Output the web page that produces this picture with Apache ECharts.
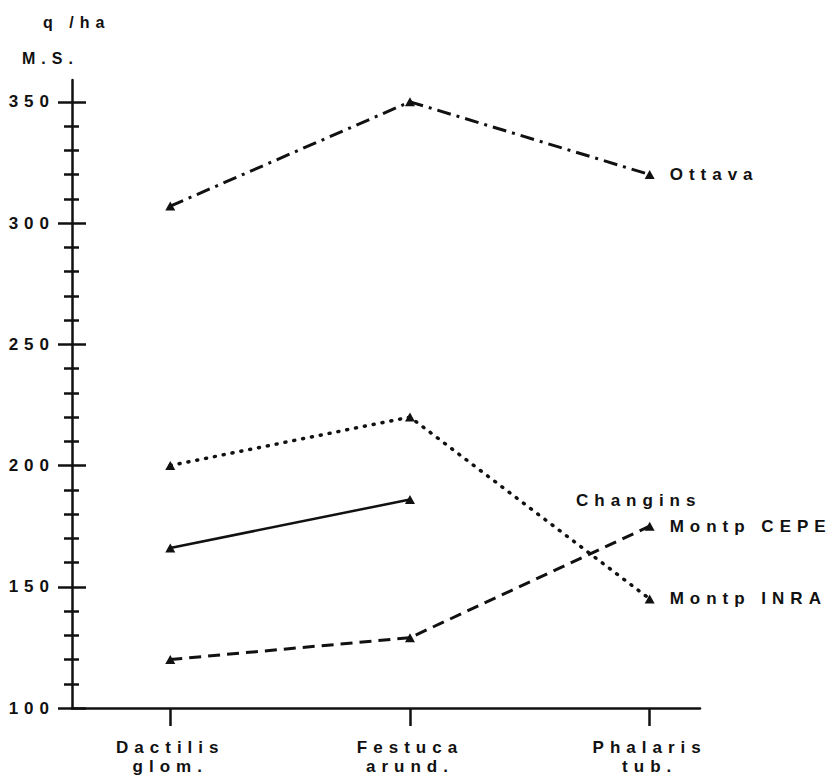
<!DOCTYPE html>
<html>
<head>
<meta charset="utf-8">
<script src="https://cdn.jsdelivr.net/npm/echarts@6.0.0/dist/echarts.min.js"></script>
<style>
  html, body { margin: 0; padding: 0; background: #fff; }
  #chart { width: 840px; height: 782px; }
  /* the scanned figure uses widely spaced lettering */
  #chart text { letter-spacing: 6px; }
</style>
</head>
<body>
<div id="chart"></div>
<script>
const categories = ['Dactilis\nglom.', 'Festuca\narund.', 'Phalaris\ntub.']
const ottava = [307, 350, 320]
const changins = [166, 186, null]
const montpCepe = [120, 129, 175]
const montpInra = [200, 220, 145]
const majorTicks = [100, 150, 200, 250, 300, 350]
const minorTicks = [110, 120, 130, 140, 160, 170, 180, 190, 210, 220, 230, 240,
  260, 270, 280, 290, 310, 320, 330, 340]
const categoryTicks = [0, 1, 2]

const ink = '#111'
const font = '"Liberation Sans", Arial, sans-serif'

function toPoints(values) {
  return values
    .map((v, i) => (v == null ? null : [i, v]))
    .filter((p) => p !== null)
}

function yAxisBase(extra) {
  return Object.assign(
    {
      type: 'value',
      position: 'left',
      min: 100,
      max: 359,
      splitLine: { show: false },
      axisLine: { show: false, onZero: false },
      axisLabel: { show: false },
    },
    extra
  )
}

function lineSeries(name, values, lineStyle, label) {
  return {
    name: name,
    type: 'line',
    data: toPoints(values),
    symbol: 'triangle',
    symbolSize: [10, 9],
    itemStyle: { color: ink },
    lineStyle: Object.assign({ color: ink, width: 3 }, lineStyle),
    endLabel: label
      ? {
          show: true,
          formatter: label,
          distance: 20,
          color: ink,
          fontSize: 17,
          fontWeight: 'bold',
          fontFamily: font,
        }
      : { show: false },
    silent: true,
    animation: false,
  }
}

const chart = echarts.init(document.getElementById('chart'), null, { renderer: 'svg' })

const option = {
  backgroundColor: '#fff',
  animation: false,
  grid: {
    left: 72,
    right: 140,
    top: 80,
    bottom: 74,
    containLabel: false,
    outerBoundsMode: 'none',
  },
  xAxis: {
    type: 'value',
    min: -0.41,
    max: 2.21,
    splitLine: { show: false },
    axisLine: { show: true, onZero: false, lineStyle: { color: ink, width: 2.5 } },
    axisTick: {
      show: true,
      customValues: categoryTicks,
      length: 18,
      lineStyle: { color: ink, width: 2.5 },
    },
    axisLabel: {
      customValues: categoryTicks,
      formatter: (v) => categories[Math.round(v)],
      margin: 30,
      color: ink,
      fontSize: 17,
      fontWeight: 'bold',
      fontFamily: font,
      lineHeight: 19,
    },
  },
  yAxis: [
    yAxisBase({
      axisLine: { show: true, onZero: false, lineStyle: { color: ink, width: 2.5 } },
      axisTick: {
        show: true,
        customValues: majorTicks,
        length: 14,
        lineStyle: { color: ink, width: 2.5 },
      },
      axisLabel: {
        show: true,
        customValues: majorTicks,
        margin: 17,
        color: ink,
        fontSize: 17,
        fontWeight: 'bold',
        fontFamily: font,
      },
    }),
    yAxisBase({
      axisTick: {
        show: true,
        inside: true,
        customValues: majorTicks,
        length: 14,
        lineStyle: { color: ink, width: 2.5 },
      },
    }),
    yAxisBase({
      axisTick: {
        show: true,
        customValues: minorTicks,
        length: 8,
        lineStyle: { color: ink, width: 2.5 },
      },
    }),
    yAxisBase({
      axisTick: {
        show: true,
        inside: true,
        customValues: minorTicks,
        length: 7,
        lineStyle: { color: ink, width: 2.5 },
      },
    }),
  ],
  graphic: [
    {
      type: 'text',
      x: 43,
      y: 22,
      style: { text: 'q /ha', font: 'bold 16px ' + font, fill: ink, verticalAlign: 'middle' },
    },
    {
      type: 'text',
      x: 22,
      y: 58,
      style: { text: 'M.S.', font: 'bold 16px ' + font, fill: ink, verticalAlign: 'middle' },
    },
    {
      type: 'text',
      x: 576,
      y: 500,
      style: { text: 'Changins', font: 'bold 17px ' + font, fill: ink, verticalAlign: 'middle' },
    },
  ],
  series: [
    lineSeries('Ottava', ottava, { type: [14, 6, 3, 6] }, 'Ottava'),
    lineSeries('Changins', changins, { type: 'solid', width: 2.5 }, null),
    lineSeries('Montp CEPE', montpCepe, { type: [12, 7] }, 'Montp CEPE'),
    lineSeries('Montp INRA', montpInra, { type: [1, 8], cap: 'round', width: 3.5 }, 'Montp INRA'),
  ],
}

chart.setOption(option)
</script>
</body>
</html>
